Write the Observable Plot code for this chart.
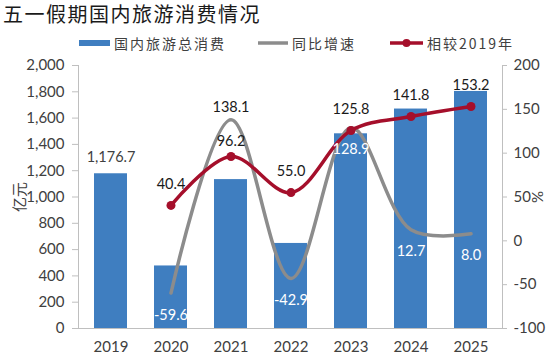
<!DOCTYPE html>
<html>
<head>
<meta charset="utf-8">
<script src="https://cdn.jsdelivr.net/npm/d3@7"></script>
<script src="https://cdn.jsdelivr.net/npm/@observablehq/plot@0.6"></script>
<style>
  html, body { margin: 0; padding: 0; background: #fff; }
  #wrap { position: relative; width: 550px; height: 358px; overflow: hidden; font-family: "Noto Sans CJK SC", sans-serif; }
  #title { position: absolute; left: 3px; top: 0px; font-size: 20px; line-height: 28px; letter-spacing: 1.5px; color: #1a1a1a; white-space: nowrap; }
  .lg { position: absolute; top: 33px; height: 20px; display: flex; align-items: center; font-size: 14px; color: #404040; letter-spacing: 2px; white-space: nowrap; }
  .lg span.t { margin-left: 4px; }
  #chart { position: absolute; left: 0; top: 56px; }
</style>
</head>
<body>
<div id="wrap">
  <div id="title">五一假期国内旅游消费情况</div>
  <div class="lg" style="left:79px"><svg width="31" height="8"><rect x="0" y="1" width="31" height="6" fill="#3F7EC0"/></svg><span class="t">国内旅游总消费</span></div>
  <div class="lg" style="left:258px"><svg width="30" height="8"><line x1="0" y1="4" x2="30" y2="4" stroke="#8C8C8C" stroke-width="3.5"/></svg><span class="t">同比增速</span></div>
  <div class="lg" style="left:390px"><svg width="33" height="10"><line x1="0" y1="5" x2="33" y2="5" stroke="#A50F2B" stroke-width="3.5"/><circle cx="16.5" cy="5" r="4" fill="#A50F2B"/></svg><span class="t">相较2019年</span></div>
  <div id="chart"></div>
</div>
<script>
const years = ["2019", "2020", "2021", "2022", "2023", "2024", "2025"];
const spending = [1176.7, 475.6, 1132.3, 646.8, 1480.6, 1668.9, 1802.7];
const yoyGrowth = [null, -59.6, 138.1, -42.9, 128.9, 12.7, 8.0];
const vs2019 = [null, 40.4, 96.2, 55.0, 125.8, 141.8, 153.2];
const leftTicks = [0, 200, 400, 600, 800, 1000, 1200, 1400, 1600, 1800, 2000];
const rightTicks = [-100, -50, 0, 50, 100, 150, 200];

const toLeft = v => (v + 100) / 300 * 2000;
const fromLeft = y => y * 300 / 2000 - 100;

const bars = years.map((year, i) => ({year, value: spending[i]}));
const yoy = years.map((year, i) => ({year, value: yoyGrowth[i]})).filter(d => d.value != null);
const rel = years.map((year, i) => ({year, value: vs2019[i]})).filter(d => d.value != null);

const BLUE = "#3F7EC0", GRAY = "#8C8C8C", RED = "#A50F2B", AXIS = "#BFBFBF", TXT = "#404040";
const f1 = d => d.value.toFixed(1);

const chart = Plot.plot({
  width: 550,
  height: 302,
  marginTop: 9,
  marginBottom: 30,
  marginLeft: 78,
  marginRight: 48,
  style: {fontFamily: "Lato, 'Noto Sans CJK SC', sans-serif", fontSize: "15px", color: TXT, background: "white"},
  x: {type: "band", domain: years, paddingInner: 0.45, paddingOuter: 0.225},
  y: {domain: [0, 2000]},
  marks: [
    Plot.barY(bars, {x: "year", y: "value", fill: BLUE}),
    Plot.frame({anchor: "left", stroke: AXIS}),
    Plot.frame({anchor: "right", stroke: AXIS}),
    Plot.frame({anchor: "bottom", stroke: AXIS}),
    Plot.line(yoy, {x: "year", y: d => toLeft(d.value), stroke: GRAY, strokeWidth: 3.5, curve: "catmull-rom"}),
    Plot.line(rel, {x: "year", y: d => toLeft(d.value), stroke: RED, strokeWidth: 3.5, curve: "catmull-rom"}),
    Plot.dot(rel, {x: "year", y: d => toLeft(d.value), r: 4.5, fill: RED, stroke: "none"}),
    // bar label (2019 only)
    Plot.text(bars.filter(d => d.year === "2019"), {x: "year", y: "value", text: d => d3.format(",.1f")(d.value), dy: -16, fill: TXT, fontSize: 14.5}),
    // yoy labels
    Plot.text(yoy.filter(d => d.year === "2021"), {x: "year", y: d => toLeft(d.value), text: f1, dy: -12, fill: "#1a1a1a", fontSize: 14.5}),
    Plot.text(yoy.filter(d => d.year !== "2021"), {x: "year", y: d => toLeft(d.value), text: f1, dy: 22, fill: "white", fontSize: 14.5}),
    // vs 2019 labels
    Plot.text(rel.filter(d => d.year === "2021"), {x: "year", y: d => toLeft(d.value), text: f1, dy: -15, fill: "#1a1a1a", fontSize: 14.5}),
    Plot.text(rel.filter(d => d.year !== "2021"), {x: "year", y: d => toLeft(d.value), text: f1, dy: -21, fill: "#1a1a1a", fontSize: 14.5}),
    Plot.axisX({tickSize: 0, tickPadding: 13, label: null, fill: TXT, fontSize: 15}),
    Plot.axisY({anchor: "left", ticks: leftTicks, tickFormat: d3.format(","), tickSize: 6, tickPadding: 8, stroke: AXIS, fill: TXT, fontSize: 15,
      label: "亿元", labelAnchor: "center", labelOffset: 64, labelArrow: "none"}),
    Plot.axisY(rightTicks.map(toLeft), {anchor: "right", tickFormat: d => String(Math.round(fromLeft(d))), tickSize: 4, tickPadding: 7, stroke: AXIS, fill: TXT, fontSize: 15,
      label: "%", labelAnchor: "center", labelOffset: 40, labelArrow: "none"})
  ]
});
document.getElementById("chart").appendChild(chart);
</script>
</body>
</html>
